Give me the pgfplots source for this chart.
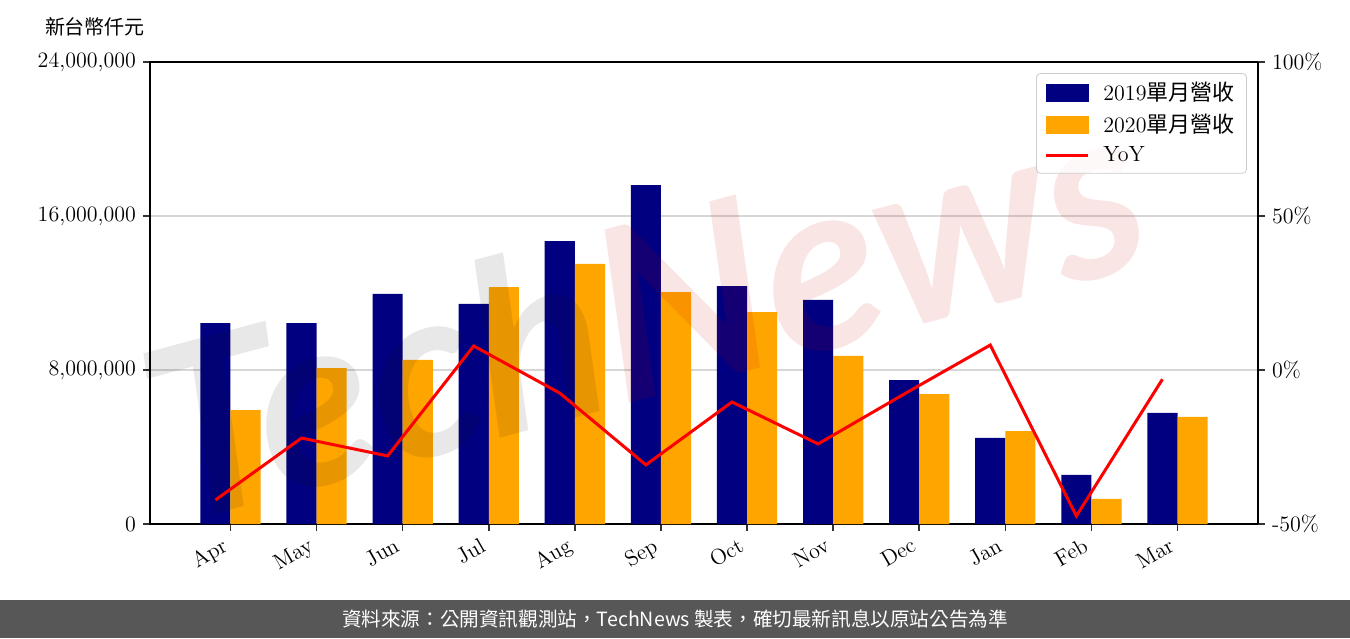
\documentclass[border=0pt]{standalone}
\usepackage{pgfplots}
\pgfplotsset{compat=1.18}
\usepackage{pgfplotstable}
\usepackage{fontspec}
\newfontfamily\cjk{Noto Sans CJK TC}
\newfontfamily\wmfont{Lato}
\definecolor{bar19}{HTML}{000080}
\definecolor{bar20}{HTML}{FFA500}
\definecolor{footer}{HTML}{575757}
\definecolor{gridc}{HTML}{D6D6D6}

\pgfplotstableread{
x  y2019     y2020     xl      yoy
0  10440000  5920000   -0.175  -42.2
1  10440000  8100000   0.825   -22.1
2  11950000  8520000   1.825   -27.9
3  11430000  12310000  2.825   7.8
4  14700000  13510000  3.825   -7.5
5  17610000  12050000  4.825   -30.8
6  12360000  11010000  5.825   -10.4
7  11640000  8730000   6.825   -24.0
8  7480000   6750000   7.825   -7.8
9  4470000   4830000   8.825   8.1
10 2550000   1300000   9.825   -47.4
11 5770000   5560000   10.825  -3.0
}\data

\begin{document}
\begin{tikzpicture}
\useasboundingbox (0,0) rectangle (675pt,319pt);
\fill[footer] (0,0) rectangle (675pt,19pt);
\node[text=white, font=\cjk\fontsize{9.8}{11}\selectfont] at (337.5pt,9.5pt) {資料來源：公開資訊觀測站，TechNews 製表，確切最新訊息以原站公告為準};
\node[font=\cjk\fontsize{10}{12}\selectfont] at (47.5pt,305.5pt) {新台幣仟元};

\begin{axis}[
  at={(75pt,57pt)}, anchor=south west, scale only axis,
  width=554pt, height=231pt,
  xmin=-0.935, xmax=11.935, ymin=0, ymax=24000000,
  xtick={0,...,11},
  xticklabels={Apr,May,Jun,Jul,Aug,Sep,Oct,Nov,Dec,Jan,Feb,Mar},
  xticklabel style={xshift=-4pt, rotate=30, anchor=north east, font=\fontsize{11}{13}\selectfont, inner sep=2pt},
  ytick={0,8000000,16000000,24000000}, scaled y ticks=false,
  yticklabels={0,{8,000,000},{16,000,000},{24,000,000}},
  yticklabel style={font=\fontsize{11}{13}\selectfont},
  xtick pos=bottom, ytick pos=left,
  ymajorgrids, grid style={color=gridc, line width=0.7pt},
  axis line style={line width=1pt},
  tick style={color=black!80, line width=0.8pt},
  tick align=outside, major tick length=3.5pt,
]
\addplot[ybar, bar width=0.35, bar shift=-0.175, fill=bar19, draw=none] table[x=x,y=y2019]{\data};
\addplot[ybar, bar width=0.35, bar shift=0.175, fill=bar20, draw=none] table[x=x,y=y2020]{\data};
\end{axis}

\node[rotate=15, opacity=0.1, font=\wmfont\bfseries\itshape\fontsize{120}{120}\selectfont, inner sep=0pt]
  at (322pt,165pt) {\textcolor{black!90}{Tech}\textcolor{red!80!black}{News}};

\begin{axis}[
  at={(75pt,57pt)}, anchor=south west, scale only axis,
  width=554pt, height=231pt,
  xmin=-0.935, xmax=11.935, ymin=-50, ymax=100,
  hide x axis, axis y line*=right,
  ytick={-50,0,50,100},
  yticklabels={-50\%,0\%,50\%,100\%},
  yticklabel style={font=\fontsize{11}{13}\selectfont},
  axis line style={line width=1pt},
  tick style={color=black!80, line width=0.8pt},
  tick align=outside, major tick length=3.5pt,
  legend cell align=left,
  legend style={at={(0.99,0.976)}, anchor=north east, draw=black!20, rounded corners=2pt,
    fill=white, fill opacity=0.8, text opacity=1, font=\fontsize{11}{13}\selectfont,
    row sep=1.2pt, inner xsep=4pt, inner ysep=2.5pt},
]
\addlegendimage{legend image code/.code={\fill[bar19, fill opacity=1, sharp corners] (0pt,-4.25pt) rectangle (21pt,4.25pt); \path (26pt,0pt);}}
\addlegendentry{2019{\cjk 單月營收}}
\addlegendimage{legend image code/.code={\fill[bar20, fill opacity=1, sharp corners] (0pt,-4.25pt) rectangle (21pt,4.25pt); \path (26pt,0pt);}}
\addlegendentry{2020{\cjk 單月營收}}
\addplot[red, line width=1.5pt, mark=none,
  legend image code/.code={\draw[red, line width=1.5pt, sharp corners] (0pt,0pt) -- (21pt,0pt); \path (26pt,0pt);}]
  table[x=xl,y=yoy]{\data};
\addlegendentry{YoY}
\end{axis}
\end{tikzpicture}
\end{document}
